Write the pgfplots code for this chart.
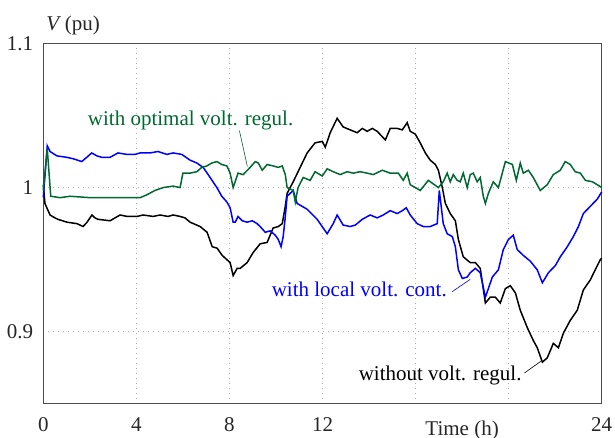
\documentclass[border=0pt]{standalone}
\usepackage{fontspec}
\setmainfont{Liberation Serif}
\usepackage{pgfplots}
\pgfplotsset{compat=1.18}
\definecolor{optgreen}{RGB}{0,105,50}
\definecolor{locblue}{RGB}{0,0,255}
\begin{document}
\fontsize{21}{25}\selectfont
\begin{tikzpicture}
\begin{axis}[
 at={(0,0)}, anchor=south west,
 scale only axis, width=558.4pt, height=360.7pt,
 xmin=0, xmax=24, ymin=0.85, ymax=1.1,
 xtick={0,4,8,12,16,20,24}, xticklabels={0,4,8,12,,,24},
 ytick={0.9,1,1.1}, yticklabels={0.9,1,1.1},
 major tick length=0pt,
 grid=major, grid style={dash pattern=on 1pt off 4pt, gray!65, line width=0.9pt},
 axis line style={black!70, line width=1pt},
 tick label style={font=\fontsize{21}{25}\selectfont, text=black!85},
 /pgf/number format/assume math mode=true,
 xticklabel style={inner sep=0pt, yshift=-13pt},
 yticklabel style={inner sep=0pt, xshift=-10pt},
 clip=false,
]
% without volt. regul.
\addplot[black, line width=1.5pt] coordinates {
(0,1.002) (0.07,0.989) (0.29,0.981) (0.5,0.979) (0.63,0.978) (1.02,0.976) (1.45,0.975)
(1.71,0.973) (1.88,0.976) (2.09,0.981) (2.22,0.979) (2.35,0.978) (2.87,0.977) (3.3,0.981)
(3.6,0.980) (4.03,0.980) (4.29,0.981) (4.72,0.980) (5.02,0.981) (5.36,0.980) (5.58,0.981)
(5.88,0.980) (6.09,0.979) (6.31,0.976) (6.74,0.973) (7.04,0.969) (7.26,0.959) (7.47,0.958)
(7.69,0.953) (8.03,0.948) (8.16,0.939) (8.33,0.944) (8.46,0.944) (8.76,0.948) (9.02,0.955)
(9.32,0.961) (9.62,0.962) (9.88,0.972) (10.1,0.973) (10.27,0.975) (10.4,0.987) (10.48,0.996)
(10.74,1.004) (11.04,1.014) (11.34,1.024) (11.68,1.031) (11.99,1.032) (12.12,1.028)
(12.33,1.038) (12.63,1.048) (12.89,1.042) (13.19,1.040) (13.49,1.038) (13.71,1.041)
(13.92,1.039) (14.14,1.041) (14.35,1.039) (14.7,1.033) (14.91,1.041) (15.21,1.041)
(15.43,1.040) (15.64,1.045) (15.77,1.039) (15.99,1.037) (16.2,1.031) (16.42,1.024)
(16.63,1.019) (16.85,1.016) (16.98,1.012) (17.15,1.000) (17.28,0.989) (17.49,0.982)
(17.71,0.977) (17.84,0.964) (18.05,0.952) (18.35,0.948) (18.57,0.948) (18.78,0.944)
(19.0,0.920) (19.21,0.924) (19.43,0.924) (19.64,0.920) (19.86,0.930) (20.07,0.932)
(20.29,0.927) (20.5,0.915) (20.8,0.903) (21.06,0.894) (21.23,0.889) (21.45,0.879)
(21.66,0.882) (21.92,0.892) (22.14,0.889) (22.35,0.899) (22.65,0.908) (22.95,0.915)
(23.21,0.929) (23.51,0.936) (23.72,0.943) (23.94,0.950) (24,0.951)
};
% with local volt. cont.
\addplot[locblue, line width=1.5pt] coordinates {
(0,0.993) (0.17,1.029) (0.29,1.025) (0.58,1.022) (1.0,1.021) (1.28,1.020) (1.65,1.018)
(1.87,1.021) (2.08,1.024) (2.3,1.022) (2.51,1.021) (2.87,1.021) (3.21,1.024) (3.59,1.023)
(3.94,1.023) (4.16,1.024) (4.59,1.024) (4.93,1.025) (5.31,1.023) (5.58,1.024) (5.95,1.023)
(6.31,1.019) (6.6,1.017) (6.87,1.014) (7.17,1.007) (7.46,1.000) (7.67,0.994) (7.89,0.990)
(8.03,0.986) (8.16,0.976) (8.25,0.976) (8.37,0.980) (8.55,0.977) (8.76,0.976) (8.98,0.977)
(9.19,0.975) (9.32,0.973) (9.54,0.969) (9.75,0.970) (9.97,0.967) (10.1,0.964) (10.22,0.959)
(10.31,0.966) (10.39,0.978) (10.48,0.994) (10.61,0.996) (10.74,0.998) (10.91,0.989)
(11.34,0.985) (11.77,0.978) (12.2,0.968) (12.46,0.975) (12.63,0.981) (12.89,0.974)
(13.19,0.973) (13.41,0.974) (13.71,0.978) (14.05,0.981) (14.35,0.979) (14.61,0.981)
(14.91,0.984) (15.21,0.982) (15.43,0.984) (15.6,0.986) (15.77,0.981) (16.07,0.975)
(16.33,0.973) (16.63,0.973) (16.93,0.975) (17.02,0.998) (17.19,0.975) (17.36,0.968)
(17.58,0.966) (17.71,0.959) (17.84,0.943) (18.01,0.937) (18.22,0.938) (18.35,0.941)
(18.57,0.944) (18.78,0.941) (19.0,0.924) (19.3,0.938) (19.56,0.943) (19.77,0.957)
(19.99,0.964) (20.2,0.967) (20.37,0.957) (20.63,0.953) (20.93,0.949) (21.23,0.943)
(21.45,0.934) (21.71,0.941) (22.01,0.946) (22.22,0.952) (22.52,0.959) (22.78,0.966)
(23.0,0.973) (23.21,0.982) (23.51,0.987) (23.81,0.992) (24,0.997)
};
% with optimal volt. regul.
\addplot[optgreen, line width=1.5pt] coordinates {
(0,0.998) (0.17,1.027) (0.32,0.994) (0.72,0.993) (1.15,0.994) (2.01,0.993) (2.73,0.993)
(3.43,0.993) (4.16,0.993) (4.45,0.995) (4.8,0.998) (5.15,1.000) (5.58,1.001) (5.88,1.000)
(6.0,1.010) (6.31,1.010) (6.6,1.011) (6.81,1.014) (7.03,1.015) (7.24,1.017) (7.46,1.018)
(7.67,1.016) (7.89,1.015) (8.03,1.010) (8.16,1.000) (8.37,1.010) (8.59,1.009) (8.89,1.014)
(9.11,1.018) (9.24,1.017) (9.41,1.012) (9.62,1.016) (9.88,1.015) (10.1,1.014) (10.27,1.015)
(10.4,1.009) (10.48,1.000) (10.61,0.999) (10.74,0.998) (10.83,0.990) (10.95,1.000)
(11.17,1.007) (11.47,1.005) (11.68,1.011) (11.99,1.008) (12.2,1.013) (12.46,1.011)
(12.76,1.009) (13.06,1.011) (13.32,1.010) (13.62,1.011) (13.92,1.010) (14.18,1.009)
(14.57,1.012) (14.91,1.010) (15.26,1.010) (15.47,1.005) (15.64,1.010) (15.77,1.002)
(15.99,1.000) (16.2,0.998) (16.55,1.005) (16.98,1.000) (17.19,1.004) (17.36,1.010)
(17.49,1.004) (17.62,1.009) (17.79,1.005) (17.92,1.004) (18.05,1.010) (18.22,1.000)
(18.35,1.009) (18.48,1.010) (18.65,1.004) (18.78,1.007) (18.91,0.994) (19.0,0.989)
(19.13,0.996) (19.34,1.004) (19.56,1.000) (19.86,1.018) (20.16,1.016) (20.33,1.005)
(20.5,1.017) (20.63,1.010) (20.85,1.012) (21.06,1.007) (21.36,0.998) (21.66,1.002)
(21.92,1.009) (22.22,1.012) (22.43,1.018) (22.65,1.016) (22.86,1.011) (23.08,1.010)
(23.3,1.005) (23.6,1.004) (23.81,1.002) (24,1.000)
};
% annotations
\node[anchor=base west, inner sep=0pt, text=optgreen] at (axis cs:1.91,1.0428) {with optimal volt. regul.};
\draw[optgreen, line width=0.6pt] (axis cs:8.43,1.0394) -- (axis cs:8.77,1.0146);
\node[anchor=base east, inner sep=0pt, text=locblue] at (axis cs:17.35,0.9243) {with local volt. cont.};
\draw[locblue, line width=0.6pt] (axis cs:17.57,0.9278) -- (axis cs:18.35,0.9364);
\node[anchor=base west, inner sep=0pt, text=black] at (axis cs:13.55,0.8665) {without volt. regul.};
\draw[black, line width=0.6pt] (axis cs:20.68,0.8715) -- (axis cs:21.39,0.8797);
\node[anchor=base west, inner sep=0pt, text=black!85] at ([xshift=3pt,yshift=13pt]rel axis cs:0,1) {\textit{V}\,(pu)};
\node[anchor=north, inner sep=0pt, text=black!85] at ([yshift=-17pt]axis cs:18,0.85) {Time (h)};
\end{axis}
\pgfresetboundingbox
\path[use as bounding box] (-43.3pt,-34pt) rectangle (571.7pt,404pt);
\end{tikzpicture}
\end{document}
